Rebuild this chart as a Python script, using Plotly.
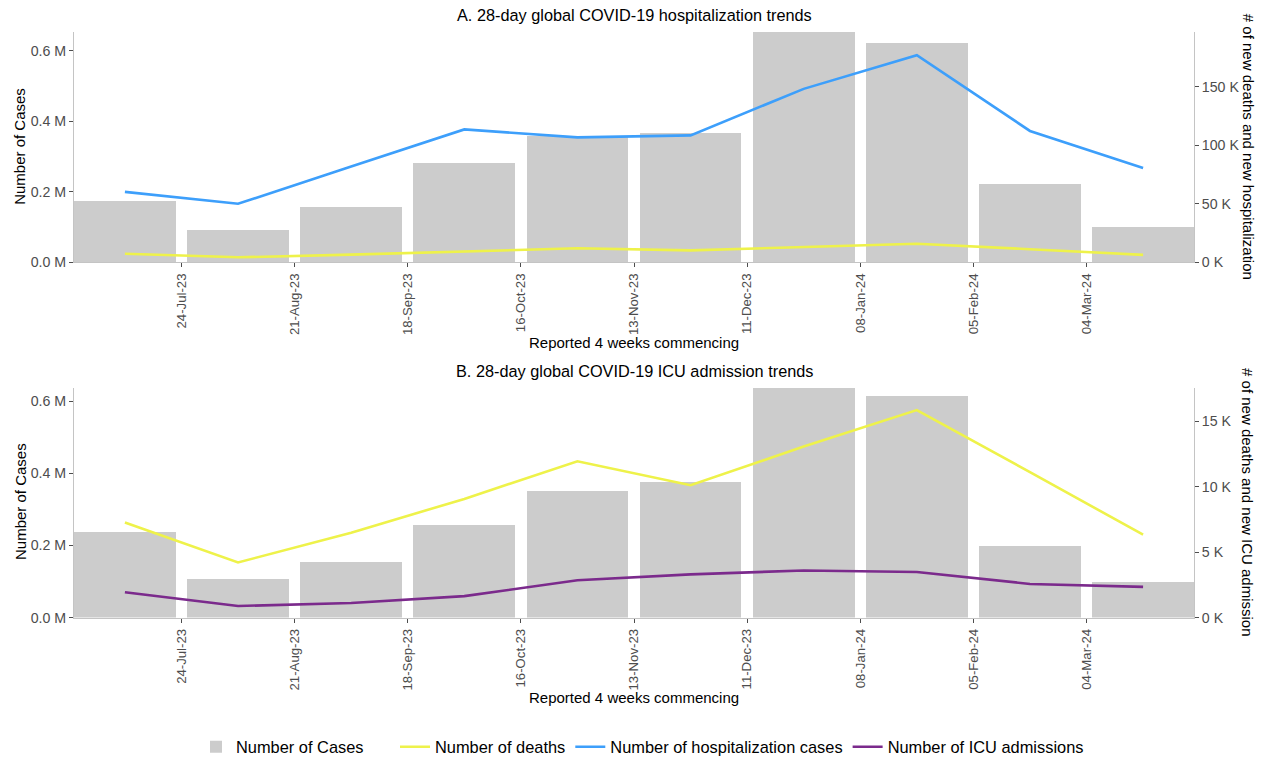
import plotly.graph_objects as go

# ---- data ----
period_index = [1, 2, 3, 4, 5, 6, 7, 8, 9, 10]
tick_labels = ["24-Jul-23", "21-Aug-23", "18-Sep-23", "16-Oct-23", "13-Nov-23",
               "11-Dec-23", "08-Jan-24", "05-Feb-24", "04-Mar-24"]

cases_a = [174400, 91700, 156400, 282000, 358000, 366000, 653000, 621700, 223000, 99300]
hosp_a = [60200, 50000, 81800, 113600, 106800, 108500, 148300, 177100, 112300, 80600]
deaths = [7260, 4210, 6480, 9060, 11930, 10100, 13060, 15840, 11100, 6330]

cases_b = [237500, 107000, 155000, 257000, 353000, 378000, 637000, 614000, 200000, 100700]
icu_b = [1940, 885, 1110, 1640, 2850, 3300, 3600, 3480, 2570, 2350]

left_ticks = [0, 200000, 400000, 600000]
left_ticktext = ["0.0 M", "0.2 M", "0.4 M", "0.6 M"]
right_ticks_a = [0, 50000, 100000, 150000]
right_ticktext_a = ["0 K", "50 K", "100 K", "150 K"]
right_ticks_b = [0, 5000, 10000, 15000]
right_ticktext_b = ["0 K", "5 K", "10 K", "15 K"]

# ---- style ----
FONT = "Liberation Sans, Arial, sans-serif"
W, H = 1262, 765
BAR_C = "#cccccc"
YEL = "#eef24a"
BLU = "#3d9ffb"
PUR = "#7b2a8c"
AXLINE = "#c4c4c4"
TICKC = "#4d4d4d"

def px_x(x):
    return x / W

def px_y(y):
    return 1 - y / H

xdom = [px_x(74), px_x(1194)]
ydom_a = [px_y(264.3), px_y(32.3)]
ydom_b = [px_y(622.5), px_y(390.7)]

tickvals_x = [i + 0.5 for i in period_index[:-1]]

fig = go.Figure()

# Panel A
fig.add_trace(go.Bar(x=period_index, y=cases_a, width=0.9, marker=dict(color=BAR_C, line=dict(width=0)),
                     name="Number of Cases", legend="legend", xaxis="x", yaxis="y", showlegend=True))
fig.add_trace(go.Scatter(x=period_index, y=deaths, mode="lines", line=dict(color=YEL, width=2.6),
                         name="Number of deaths", legend="legend2", xaxis="x", yaxis="y2"))
fig.add_trace(go.Scatter(x=period_index, y=hosp_a, mode="lines", line=dict(color=BLU, width=2.6),
                         name="Number of hospitalization cases", legend="legend2", xaxis="x", yaxis="y2"))

# Panel B
fig.add_trace(go.Bar(x=period_index, y=cases_b, width=0.9, marker=dict(color=BAR_C, line=dict(width=0)),
                     name="Number of Cases", xaxis="x2", yaxis="y3", showlegend=False))
fig.add_trace(go.Scatter(x=period_index, y=deaths, mode="lines", line=dict(color=YEL, width=2.6),
                         name="Number of deaths", xaxis="x2", yaxis="y4", showlegend=False))
fig.add_trace(go.Scatter(x=period_index, y=icu_b, mode="lines", line=dict(color=PUR, width=2.6),
                         name="Number of ICU admissions", legend="legend2", xaxis="x2", yaxis="y4"))

xcommon = dict(range=[0.55, 10.45], tickmode="array", tickvals=tickvals_x, ticktext=tick_labels,
               tickangle=-90, showgrid=False, zeroline=False, showline=True, linecolor=AXLINE,
               linewidth=1, ticks="outside", ticklen=4, tickcolor=TICKC, tickwidth=1,
               ticklabelstandoff=1,
               tickfont=dict(family=FONT, size=13.2, color=TICKC), automargin=False, fixedrange=True)

ycommon = dict(showgrid=False, zeroline=False, showline=True, linecolor=AXLINE, linewidth=1,
               ticks="outside", ticklen=4, tickcolor=TICKC, tickwidth=1,
               tickfont=dict(family=FONT, size=14.2, color=TICKC), automargin=False, tickmode="array",
               fixedrange=True)

fig.update_layout(
    width=W, height=H,
    margin=dict(l=0, r=0, t=0, b=0),
    paper_bgcolor="white", plot_bgcolor="white",
    font=dict(family=FONT, color="black"),
    bargap=0,
    xaxis=dict(domain=xdom, anchor="y", **xcommon),
    xaxis2=dict(domain=xdom, anchor="y3", **xcommon),
    yaxis=dict(domain=ydom_a, anchor="x", range=[0, 653000], tickvals=left_ticks,
               ticktext=left_ticktext, **ycommon),
    yaxis2=dict(overlaying="y", side="right", anchor="x", range=[0, 196900],
                tickvals=right_ticks_a, ticktext=right_ticktext_a, **ycommon),
    yaxis3=dict(domain=ydom_b, anchor="x2", range=[0, 637400], tickvals=left_ticks,
                ticktext=left_ticktext, **ycommon),
    yaxis4=dict(overlaying="y3", side="right", anchor="x2", range=[0, 17550],
                tickvals=right_ticks_b, ticktext=right_ticktext_b, **ycommon),
    legend=dict(orientation="h", x=px_x(196), y=px_y(753), xanchor="left", yanchor="middle",
                font=dict(family=FONT, size=16.4, color="black"), bgcolor="rgba(0,0,0,0)"),
    legend2=dict(orientation="h", x=px_x(395), y=px_y(753), xanchor="left", yanchor="middle",
                 font=dict(family=FONT, size=16.4, color="black"), bgcolor="rgba(0,0,0,0)",
                 traceorder="normal"),
    showlegend=True,
)

ann = []
def add_text(text, x, y, size, angle=0):
    ann.append(dict(text=text, x=px_x(x), y=px_y(y), xref="paper", yref="paper",
                    xanchor="center", yanchor="middle", showarrow=False, textangle=angle,
                    font=dict(family=FONT, size=size, color="black")))

add_text("A. 28-day global COVID-19 hospitalization trends", 634, 15, 16.3)
add_text("Reported 4 weeks commencing", 634, 345.5, 15)
add_text("Number of Cases", 20, 148, 15, -90)
add_text("# of new deaths and new hospitalization", 1248, 148, 15, 90)

add_text("B. 28-day global COVID-19 ICU admission trends", 634, 374, 16.3)
add_text("Reported 4 weeks commencing", 634, 703.5, 15)
add_text("Number of Cases", 20, 506, 15, -90)
add_text("# of new deaths and new ICU admission", 1248, 506, 15, 90)

fig.update_layout(annotations=ann)

fig.write_html("out.html", post_script="document.body.style.margin='0';",
               config={"displayModeBar": False})
